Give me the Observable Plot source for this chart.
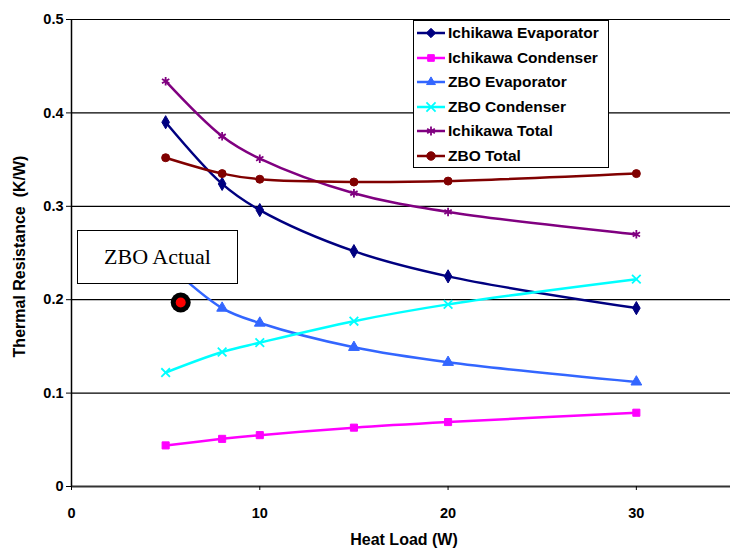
<!DOCTYPE html>
<html>
<head>
<meta charset="utf-8">
<script src="https://cdn.jsdelivr.net/npm/d3@7"></script>
<script src="https://cdn.jsdelivr.net/npm/@observablehq/plot@0.6"></script>
<style>
  body { margin: 0; background: #fff; }
  #wrap { position: relative; width: 730px; height: 549px; font-family: "Liberation Sans", Arial, sans-serif; }
  #legend { position: absolute; left: 413px; top: 20px; width: 196px; height: 148px; border: 1px solid #000; background: #fff; box-sizing: border-box; padding-top: 0px; }
  .row { display: flex; align-items: center; height: 24.5px; font-weight: bold; font-size: 15.5px; color: #000; white-space: nowrap; }
  .row svg { margin-left: 3px; margin-right: 3px; }
  #note { position: absolute; left: 77px; top: 230px; width: 161px; height: 54px; border: 1.5px solid #000; background: #fff; box-sizing: border-box; font-family: "Liberation Serif", "Times New Roman", serif; font-size: 22px; display: flex; align-items: center; justify-content: center; }
</style>
</head>
<body>
<div id="wrap"></div>
<script>
const heatLoad = [5, 8, 10, 15, 20, 30];
const seriesNames = ["Ichikawa Evaporator", "Ichikawa Condenser", "ZBO Evaporator", "ZBO Condenser", "Ichikawa Total", "ZBO Total"];
const ichikawaEvaporator = [0.390, 0.324, 0.296, 0.252, 0.225, 0.191];
const ichikawaCondenser = [0.044, 0.051, 0.055, 0.063, 0.069, 0.079];
const zboEvaporator = [0.240, 0.191, 0.175, 0.149, 0.133, 0.112];
const zboCondenser = [0.122, 0.144, 0.154, 0.177, 0.195, 0.222];
const ichikawaTotal = [0.434, 0.375, 0.351, 0.314, 0.294, 0.270];
const zboTotal = [0.352, 0.335, 0.329, 0.326, 0.327, 0.335];
const zboActual = [{x: 5.8, y: 0.197}];
const yTicks = [0, 0.1, 0.2, 0.3, 0.4, 0.5];
const xTicks = [0, 10, 20, 30];
const xLabel = "Heat Load (W)";
const yLabel = "Thermal Resistance  (K/W)";

const colors = ["#000080", "#FF00FF", "#3366FF", "#00FFFF", "#800080", "#800000"];
const symbols = ["diamond", "square", "triangle", "times", "asterisk", "circle"];
const filled = [true, true, true, false, false, true];
const values = [ichikawaEvaporator, ichikawaCondenser, zboEvaporator, zboCondenser, ichikawaTotal, zboTotal];

const data = [];
seriesNames.forEach((name, i) => heatLoad.forEach((x, j) => data.push({series: name, idx: i, x, y: values[i][j]})));

const lineMarks = seriesNames.map((name, i) =>
  Plot.line(data.filter(d => d.idx === i), {x: "x", y: "y", stroke: colors[i], strokeWidth: 2.5, curve: "catmull-rom"}));
const dotMarks = seriesNames.map((name, i) =>
  Plot.dot(data.filter(d => d.idx === i), {x: "x", y: "y", symbol: () => symbols[i], r: 4,
    fill: filled[i] ? colors[i] : "none", stroke: colors[i], strokeWidth: filled[i] ? 1 : 1.8}));

const chart = Plot.plot({
  width: 730, height: 549,
  marginLeft: 71, marginTop: 19, marginBottom: 63, marginRight: 0,
  x: {domain: [0, 35]},
  y: {domain: [0, 0.5]},
  style: {fontFamily: "Liberation Sans, Arial, sans-serif", fontSize: "14px", fontWeight: "bold", color: "#000", background: "#fff"},
  marks: [
    Plot.ruleY(yTicks.filter(d => d > 0), {stroke: "#000", strokeWidth: 1.2}),
    Plot.ruleY([0], {stroke: "#333", strokeWidth: 2}),
    Plot.ruleX([0], {stroke: "#000", strokeWidth: 1.5}),
    Plot.axisY({ticks: yTicks, tickFormat: d => d === 0 ? "0" : d.toFixed(1), tickSize: 5, tickPadding: 3, label: null, fontSize: 14.5}),
    Plot.axisX({ticks: xTicks, tickFormat: d => String(d), tickSize: 4, tickPadding: 17, label: null, fontSize: 14.5}),
    Plot.text([yLabel], {frameAnchor: "left", textAnchor: "middle", rotate: -90, dx: -52, dy: 3.5, fontSize: 16, fontWeight: "bold", fill: "#000"}),
    Plot.text([xLabel], {frameAnchor: "bottom", dy: 58, dx: 3, fontSize: 16, fontWeight: "bold", fill: "#000"}),
    ...lineMarks,
    ...dotMarks,
    Plot.dot(zboActual, {x: "x", y: "y", r: 10, fill: "#000"}),
    Plot.dot(zboActual, {x: "x", y: "y", r: 5, fill: "#FF0000"})
  ]
});

const wrap = document.getElementById("wrap");
wrap.appendChild(chart);

// legend
const legend = document.createElement("div");
legend.id = "legend";
const symMap = {diamond: d3.symbolDiamond2, square: d3.symbolSquare2, triangle: d3.symbolTriangle2, times: d3.symbolTimes, asterisk: d3.symbolAsterisk, circle: d3.symbolCircle};
seriesNames.forEach((name, i) => {
  const row = document.createElement("div");
  row.className = "row";
  const s = d3.create("svg").attr("width", 28).attr("height", 14);
  s.append("line").attr("x1", 0).attr("x2", 28).attr("y1", 7).attr("y2", 7).attr("stroke", colors[i]).attr("stroke-width", 2.5);
  s.append("path").attr("transform", "translate(14,7)")
    .attr("d", d3.symbol(symMap[symbols[i]], 56)())
    .attr("fill", filled[i] ? colors[i] : "none").attr("stroke", colors[i]).attr("stroke-width", filled[i] ? 1 : 1.8);
  row.appendChild(s.node());
  const t = document.createElement("span");
  t.textContent = name;
  row.appendChild(t);
  legend.appendChild(row);
});
wrap.appendChild(legend);

const note = document.createElement("div");
note.id = "note";
note.textContent = "ZBO Actual";
wrap.appendChild(note);
</script>
</body>
</html>
